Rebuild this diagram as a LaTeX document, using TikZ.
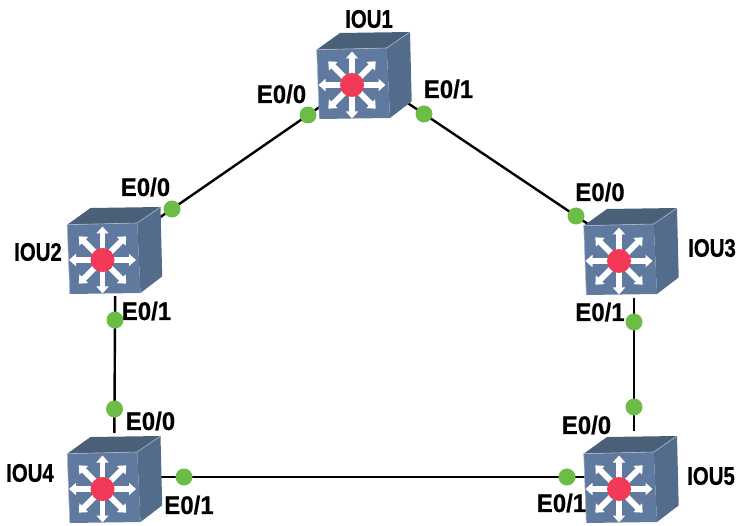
\documentclass[tikz,border=0pt]{standalone}
\usepackage{fontspec}
\setmainfont{Liberation Sans}
\newfontfamily\nameface[FakeStretch=0.8,FakeBold=0.6]{Liberation Sans Bold}
\newfontfamily\portface[FakeStretch=0.94,FakeBold=0.6]{Liberation Sans Bold}
\usetikzlibrary{arrows.meta,backgrounds}
\definecolor{swfront}{HTML}{5F7A9E}
\definecolor{swtop}{HTML}{4A6079}
\definecolor{swside}{HTML}{546C8C}
\definecolor{swred}{HTML}{F23A58}
\definecolor{swgreen}{HTML}{6CBD45}
\definecolor{swedge}{HTML}{A9B8CC}
\tikzset{
  port/.style={circle,fill=swgreen,draw=none,minimum size=17pt,inner sep=0pt},
  lbl/.style={font=\fontsize{25.5}{25.5}\portface,inner sep=0pt,text=black},
  namelbl/.style={font=\fontsize{25.5}{25.5}\nameface,inner sep=0pt,text=black},
  wire/.style={draw=black,line width=2.4pt,shorten <=-24pt,shorten >=-24pt},
  ray/.style={draw=white,line width=5.8pt,-{Triangle[length=7pt,width=12pt]}},
  hub/.style={circle,fill=swred,draw=none,minimum size=24pt,inner sep=0pt}
}
\newcommand{\switchat}[3]{%
  \begin{scope}[shift={(#2,#3)}]
    \fill[swtop] (-35.3,-35.3) -- (-12,-52) -- (58,-53) -- (34.7,-37) -- cycle;
    \fill[swside] (34.7,-37) -- (58,-53) -- (59.7,16.4) -- (38,33) -- cycle;
    \fill[swfront] (-35.3,-35.3) -- (34.7,-37) -- (38,33) -- (-32.7,34) -- cycle;
    \draw[swedge,line width=0.6pt] (-32.7,34) -- (-35.3,-35.3) -- (34.7,-37) -- (58,-53);
    \foreach \a in {0,45,...,315}{\draw[ray] (0,0) -- (\a:33.5);}
    \node[hub] (#1) at (0,0) {};
  \end{scope}}
\begin{document}
\begin{tikzpicture}[x=1pt,y=-1pt]
\useasboundingbox (0,0) rectangle (738,526);
\switchat{iouA}{352}{85}
\switchat{iouB}{102.5}{260}
\switchat{iouC}{619}{261}
\switchat{iouD}{102.5}{489}
\switchat{iouE}{619}{489}
\node[port] (pAa) at (308,115) {};
\node[port] (pAb) at (424,114) {};
\node[port] (pBa) at (172,209) {};
\node[port] (pBb) at (115,320) {};
\node[port] (pCa) at (576,216) {};
\node[port] (pCb) at (634,322) {};
\node[port] (pDa) at (114.5,409) {};
\node[port] (pDb) at (184,477) {};
\node[port] (pEa) at (634,407) {};
\node[port] (pEb) at (567,477) {};
\begin{pgfonlayer}{background}
\draw[wire] (pAa.center) -- (pBa.center);
\draw[wire] (pAb.center) -- (pCa.center);
\draw[wire] (pBb.center) -- (pDa.center);
\draw[wire] (pCb.center) -- (pEa.center);
\draw[wire] (pDb.center) -- (pEb.center);
\end{pgfonlayer}
\node[namelbl] (tA) at (369,19) {IOU1};
\node[namelbl] (tB) at (38,252) {IOU2};
\node[namelbl] (tC) at (712,248) {IOU3};
\node[namelbl] (tD) at (30,473) {IOU4};
\node[namelbl] (tE) at (711,476) {IOU5};
\node[lbl] (tAa) at (281.5,94) {E0/0};
\node[lbl] (tAb) at (448.5,89) {E0/1};
\node[lbl] (tBa) at (145.5,187) {E0/0};
\node[lbl] (tBb) at (146.5,311) {E0/1};
\node[lbl] (tCa) at (600,192) {E0/0};
\node[lbl] (tCb) at (600,312) {E0/1};
\node[lbl] (tDa) at (150.5,421) {E0/0};
\node[lbl] (tDb) at (189,505) {E0/1};
\node[lbl] (tEa) at (586.5,425) {E0/0};
\node[lbl] (tEb) at (561.5,503) {E0/1};
\end{tikzpicture}
\end{document}
